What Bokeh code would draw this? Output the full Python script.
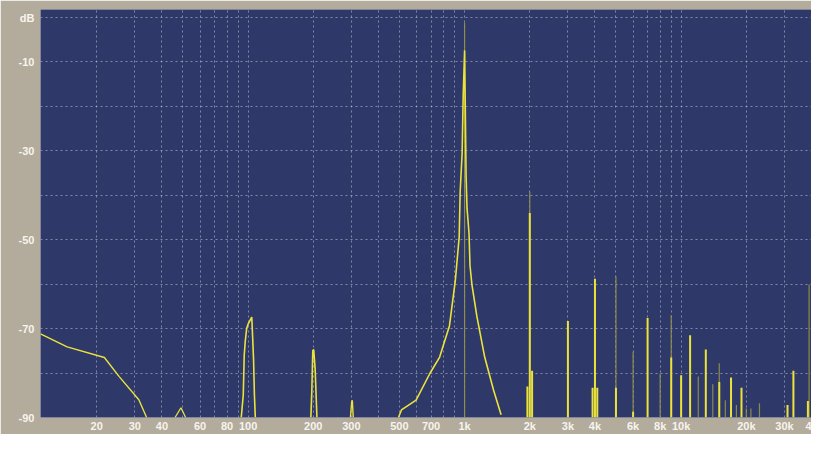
from bokeh.plotting import figure
from bokeh.models import FixedTicker, Range1d
from bokeh.embed import file_html
from bokeh.resources import INLINE

# ---- data ----
low_f = [11, 14.6, 21.7, 25.4, 31.3, 34.0]
low_db = [-71.2, -74.1, -76.5, -80.8, -86.0, -90.0]

hum50_f = [46, 49, 51.5]
hum50_db = [-90, -87.8, -90]

hum100_f = [93, 95, 96, 97, 98.5, 100, 104, 105, 106, 107, 108]
hum100_db = [-90, -85, -76, -73, -70, -69, -67.4, -72, -77, -85, -90]

h200_f = [195, 197, 199, 201, 204, 208]
h200_db = [-90, -84, -75, -74.7, -79, -90]

h300_f = [297, 301, 303, 306]
h300_db = [-90, -86.5, -86.1, -90]

fund_f = [495, 511, 597, 691, 767, 851, 906, 944, 954, 974, 985, 1000,
          1016, 1026, 1048, 1059, 1081, 1139, 1238, 1360, 1474]
fund_db = [-90, -88.3, -86.1, -80.1, -76.4, -69.4, -59.2, -49.4, -39.2, -30.6, -17.7, -7.4,
           -35.6, -42.9, -48.5, -55.8, -60.1, -67.2, -76.4, -83.8, -89.4]

spur_f = [1950, 2000, 2050, 3000, 3900, 4000, 4100, 5000, 6000, 7000, 9000, 10000,
          11000, 13000, 15000, 17000, 19000, 31000, 33000, 38500]
spur_db = [-83, -44, -79.5, -68.3, -83.3, -58.8, -83.3, -83.3, -88.7, -67.6, -76.5, -80.5,
           -71.5, -74.7, -82, -81, -83.3, -87.2, -79.5, -86.3]

dim_f = [1000, 2000, 5000, 6000, 8000, 9000, 12000, 14000, 15000, 16000, 18000,
         20000, 21000, 23000, 39000]
dim_db = [-1.2, -39.2, -58.2, -75.2, -80.1, -67, -80.8, -82.5, -77.8, -86.1, -87.2,
          -88, -88, -86.8, -60.1]

x_ticks = [20, 30, 40, 60, 80, 100, 200, 300, 500, 700, 1000, 2000, 3000, 4000,
           6000, 8000, 10000, 20000, 30000, 40000]
x_labels = ["20", "30", "40", "60", "80", "100", "200", "300", "500", "700", "1k", "2k",
            "3k", "4k", "6k", "8k", "10k", "20k", "30k", "4"]
x_grid = [20, 30, 40, 50, 60, 70, 80, 90, 100, 200, 300, 400, 500, 600, 700, 800, 900,
          1000, 2000, 3000, 4000, 5000, 6000, 7000, 8000, 9000, 10000, 20000, 30000]
y_ticks = [0, -10, -30, -50, -70, -90]
y_labels = ["dB", "-10", "-30", "-50", "-70", "-90"]
y_grid = [0, -10, -20, -30, -40, -50, -60, -70, -80]

FLOOR = -90

BG = "#2e3969"
BEIGE = "#b3ab9c"
YEL = "#ebe33c"
OLIVE = "#959548"
GRID = "#c9cbd8"

p = figure(width=811, height=434, x_axis_type="log",
           x_range=Range1d(11, 40000), y_range=Range1d(-90, 1.8),
           output_backend="svg", toolbar_location=None,
           min_border_left=40, min_border_right=0, min_border_top=9, min_border_bottom=0,
           background_fill_color=BG, border_fill_color=BEIGE, outline_line_color=None)

# grids
p.xgrid.ticker = FixedTicker(ticks=x_grid)
p.ygrid.ticker = FixedTicker(ticks=y_grid)
for g in (p.xgrid, p.ygrid):
    g.grid_line_color = GRID
    g.grid_line_alpha = 0.55
    g.grid_line_dash = "2 3"
    g.grid_line_width = 1

# axes
p.xaxis.ticker = FixedTicker(ticks=x_ticks)
p.xaxis.major_label_overrides = {t: l for t, l in zip(x_ticks, x_labels)}
p.yaxis.ticker = FixedTicker(ticks=y_ticks)
p.yaxis.major_label_overrides = {t: l for t, l in zip(y_ticks, y_labels)}
for ax in (p.xaxis, p.yaxis):
    ax.axis_line_color = None
    ax.major_tick_line_color = None
    ax.minor_tick_line_color = None
    ax.major_tick_out = 0
    ax.major_tick_in = 0
    ax.major_label_text_color = "#f7f4ec"
    ax.major_label_text_font = "Liberation Sans"
    ax.major_label_text_font_size = "11px"
    ax.major_label_text_font_style = "bold"
p.yaxis.major_label_standoff = 6
p.xaxis.major_label_standoff = 2

# dim trace (second channel) spikes
p.segment(x0=dim_f, y0=[FLOOR] * len(dim_f), x1=dim_f, y1=dim_db,
          line_color=OLIVE, line_width=1.2, line_alpha=0.9)

# bright trace
p.line(low_f, low_db, line_color=YEL, line_width=1.4)
p.line(hum50_f, hum50_db, line_color=YEL, line_width=1.3)
p.line(hum100_f, hum100_db, line_color=YEL, line_width=1.6)
p.line(h200_f, h200_db, line_color=YEL, line_width=1.6)
p.line(h300_f, h300_db, line_color=YEL, line_width=1.4)
p.line(fund_f, fund_db, line_color=YEL, line_width=1.6)
p.segment(x0=spur_f, y0=[FLOOR] * len(spur_f), x1=spur_f, y1=spur_db,
          line_color=YEL, line_width=2)

open("out.html", "w").write(file_html(p, INLINE))
